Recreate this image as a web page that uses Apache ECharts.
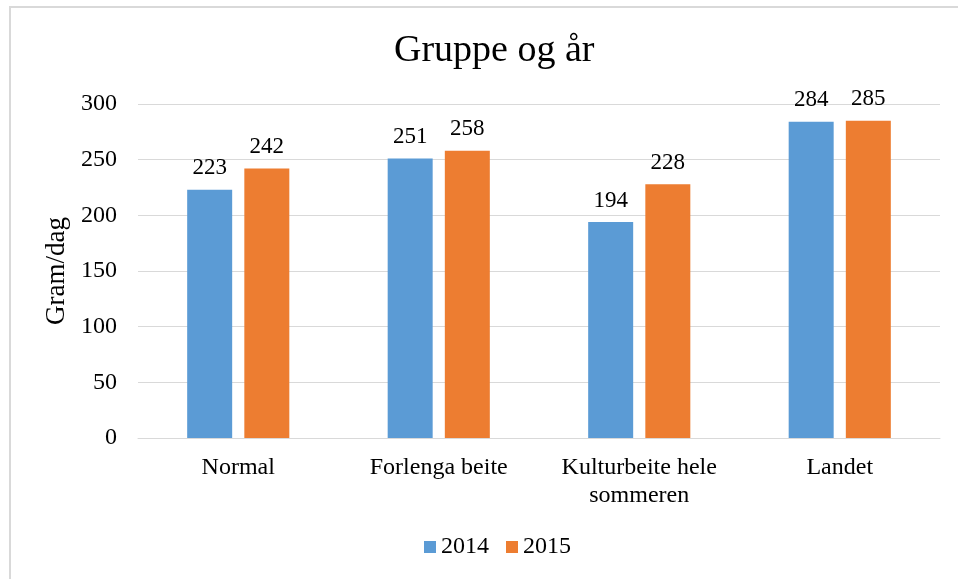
<!DOCTYPE html>
<html>
<head>
<meta charset="utf-8">
<script src="https://cdn.jsdelivr.net/npm/echarts@6/dist/echarts.min.js"></script>
<style>
  html, body { margin: 0; padding: 0; background: #fff; overflow: hidden; }
  #frame { position: absolute; left: 9px; top: 6px; width: 1000px; height: 600px; border: 2px solid #d9d9d9; box-sizing: border-box; }
  #chart { position: absolute; left: 0; top: 0; width: 958px; height: 579px; }
</style>
</head>
<body>
<div id="frame"></div>
<div id="chart"></div>
<script>
// categories and values
const categories = ['Normal', 'Forlenga beite', 'Kulturbeite hele\nsommeren', 'Landet'];
const values2014 = [223, 251, 194, 284];
const values2015 = [242, 258, 228, 285];
const seriesNames = ['2014', '2015'];

const serif = '"Liberation Serif", "Times New Roman", serif';

let myChart = echarts.init(document.getElementById('chart'));

const labelStyle = {
    show: true,
    position: 'top',
    distance: 10,
    fontFamily: serif,
    fontSize: 23,
    color: '#000'
};

myChart.setOption({
    animation: false,
    title: {
        text: 'Gruppe og år',
        left: 389,
        top: 27,
        textStyle: { fontFamily: serif, fontSize: 38, fontWeight: 'normal', color: '#000' }
    },
    legend: {
        data: seriesNames,
        bottom: 15,
        left: 419,
        itemWidth: 12,
        itemHeight: 12,
        itemGap: 17,
        icon: 'rect',
        textStyle: { fontFamily: serif, fontSize: 24, color: '#000' }
    },
    grid: {
        left: 138,
        right: 18,
        top: 104,
        bottom: 141
    },
    xAxis: {
        type: 'category',
        data: categories,
        axisTick: { show: false },
        axisLine: { lineStyle: { color: '#d9d9d9', width: 1 } },
        axisLabel: {
            interval: 0,
            fontFamily: serif,
            fontSize: 24,
            color: '#000',
            margin: 16,
            lineHeight: 28
        }
    },
    yAxis: {
        type: 'value',
        min: 0,
        max: 300,
        interval: 50,
        name: 'Gram/dag',
        nameLocation: 'middle',
        nameGap: 62,
        nameTextStyle: { fontFamily: serif, fontSize: 27, color: '#000' },
        axisLine: { show: false },
        axisTick: { show: false },
        splitLine: { lineStyle: { color: '#d9d9d9', width: 1 } },
        axisLabel: { fontFamily: serif, fontSize: 24, color: '#000', margin: 21 }
    },
    series: [
        {
            name: seriesNames[0],
            type: 'bar',
            data: values2014,
            barWidth: 45,
            barGap: '27%',
            itemStyle: { color: '#5b9bd5' },
            label: labelStyle
        },
        {
            name: seriesNames[1],
            type: 'bar',
            data: values2015,
            barWidth: 45,
            barGap: '27%',
            itemStyle: { color: '#ed7d31' },
            label: labelStyle
        }
    ]
});
</script>
</body>
</html>
